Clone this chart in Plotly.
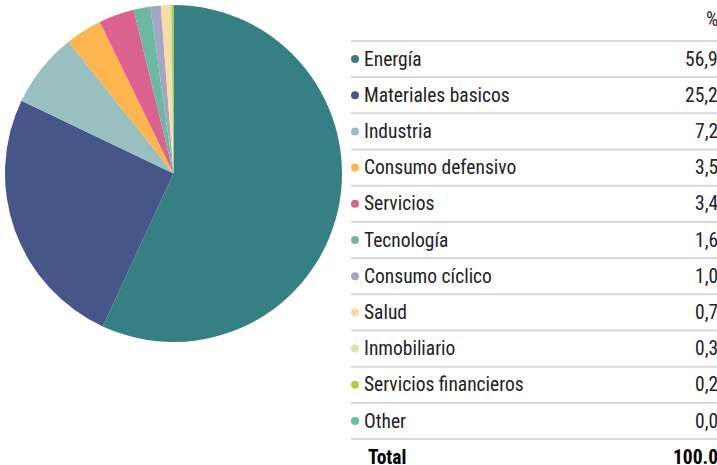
import plotly.graph_objects as go

categories = ["Energía", "Materiales basicos", "Industria", "Consumo defensivo", "Servicios",
              "Tecnología", "Consumo cíclico", "Salud", "Inmobiliario", "Servicios financieros", "Other"]
values = [56.9, 25.2, 7.2, 3.5, 3.4, 1.6, 1.0, 0.7, 0.3, 0.2, 0.0]
value_labels = ["56,9", "25,2", "7,2", "3,5", "3,4", "1,6", "1,0", "0,7", "0,3", "0,2", "0,0"]
colors = ["#358083", "#465688", "#99BFC0", "#FDB64E", "#DB628E", "#6BB9A0",
          "#A2A7C4", "#FDD9A3", "#D8E6A5", "#B6CC3D", "#6ABCA3"]
header_label = "%"
total_label = "Total"
total_value = "100.0"

W, H = 717, 465
ROW0, STEP = 59.0, 36.2
FONT = "Roboto Condensed, Liberation Sans Narrow, DejaVu Sans Condensed, sans-serif"
TXT = "#222222"
FS = 19.5

fig = go.Figure()

fig.add_trace(go.Pie(
    labels=categories, values=values, sort=False, direction="clockwise", rotation=0,
    marker=dict(colors=colors, line=dict(width=0)),
    textinfo="none", hoverinfo="label+percent",
    domain=dict(x=[5 / W, 342 / W], y=[1 - 342 / H, 1 - 5 / H]),
    showlegend=False,
))

rows = list(range(len(categories)))
fig.add_trace(go.Scatter(
    x=[355] * len(categories), y=rows, mode="markers",
    marker=dict(size=8, color=colors, line=dict(width=0)),
    showlegend=False, hoverinfo="skip",
))

annotations = []
for r, (c, v) in enumerate(zip(categories, value_labels)):
    annotations.append(dict(x=362, y=r, xref="x", yref="y", text=c, showarrow=False,
                            xanchor="left", yanchor="middle",
                            font=dict(family=FONT, size=FS, color=TXT)))
    annotations.append(dict(x=717, y=r, xref="x", yref="y", text=v, showarrow=False,
                            xanchor="right", yanchor="middle", xshift=3,
                            font=dict(family=FONT, size=FS, color=TXT)))
annotations.append(dict(x=717, y=-1.08, xref="x", yref="y", text=header_label, showarrow=False,
                        xanchor="right", yanchor="middle", xshift=3,
                        font=dict(family=FONT, size=FS, color=TXT)))
nt = len(categories)
annotations.append(dict(x=366, y=nt, xref="x", yref="y", text="<b>" + total_label + "</b>",
                        showarrow=False, xanchor="left", yanchor="middle",
                        font=dict(family=FONT, size=FS, color="#000")))
annotations.append(dict(x=717, y=nt, xref="x", yref="y", text="<b>" + total_value + "</b>",
                        showarrow=False, xanchor="right", yanchor="middle", xshift=3,
                        font=dict(family=FONT, size=FS, color="#000")))

shapes = []
for k in range(nt + 1):
    yk = k - 0.5
    shapes.append(dict(type="line", xref="x", yref="y", x0=351, x1=717, y0=yk, y1=yk,
                       line=dict(color="#DADADA", width=2)))

fig.update_layout(
    width=W, height=H, margin=dict(l=0, r=0, t=0, b=0),
    paper_bgcolor="white", plot_bgcolor="rgba(0,0,0,0)",
    xaxis=dict(range=[0, W], visible=False, fixedrange=True, domain=[0, 1]),
    yaxis=dict(range=[(H - ROW0) / STEP, -ROW0 / STEP], visible=False, fixedrange=True, domain=[0, 1]),
    annotations=annotations, shapes=shapes,
)

fig.write_html("out.html", config={"displayModeBar": False},
               post_script="document.body.style.margin='0';document.body.style.overflow='hidden';")
